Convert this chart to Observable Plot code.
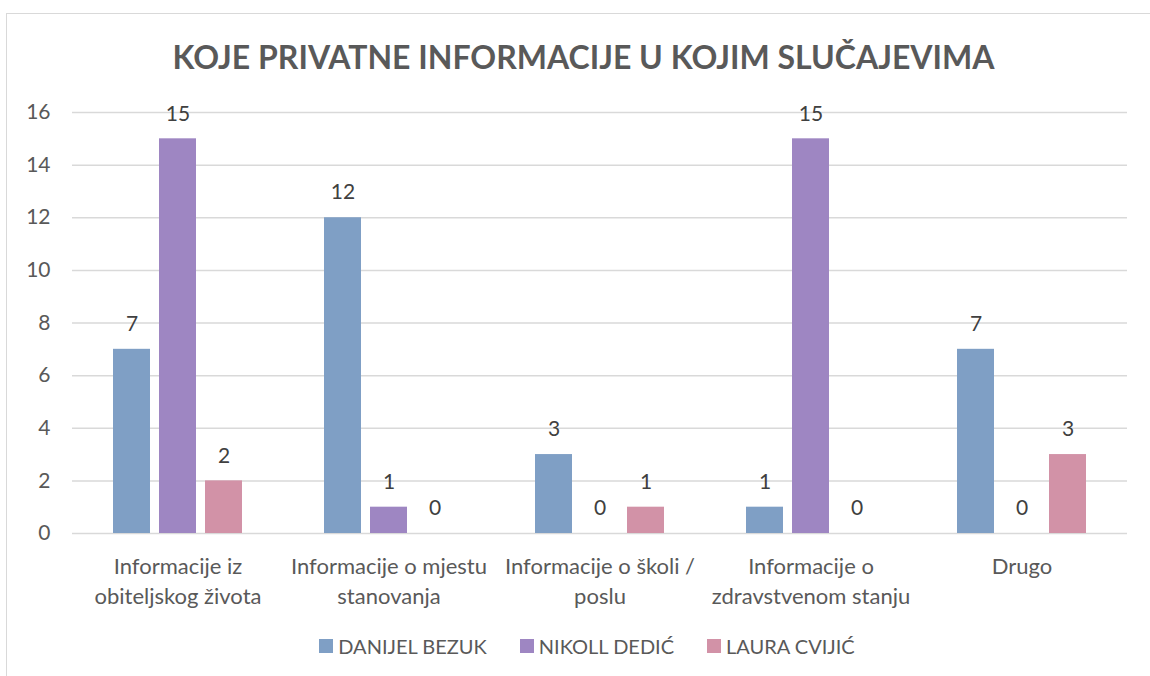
<!DOCTYPE html>
<html>
<head>
<meta charset="utf-8">
<script src="https://cdn.jsdelivr.net/npm/d3@7"></script>
<script src="https://cdn.jsdelivr.net/npm/@observablehq/plot@0.6"></script>
<style>
  html, body { margin: 0; padding: 0; background: #fff; }
  #chart { position: relative; width: 1150px; height: 676px; overflow: hidden; font-family: Lato, "Open Sans", sans-serif; }
  #frame { position: absolute; left: 6px; top: 13px; width: 1200px; height: 700px; border-left: 1.5px solid #d9d9d9; border-top: 1.5px solid #d9d9d9; box-sizing: border-box; }
  #title { position: absolute; top: 37px; left: 0; width: 1167px; text-align: center; font-weight: 700; font-size: 32px; color: #595959; white-space: nowrap; }
  #plot { position: absolute; left: 0; top: 80px; }
  #legend { position: absolute; top: 634px; left: 0; width: 1174px; display: flex; justify-content: center; gap: 33px; font-size: 20px; color: #595959; }
  .item { display: flex; align-items: center; gap: 5px; }
  .sw { width: 14px; height: 14px; display: inline-block; }
</style>
</head>
<body>
<div id="chart">
  <div id="frame"></div>
  <div id="title">KOJE PRIVATNE INFORMACIJE U KOJIM SLUČAJEVIMA</div>
  <div id="plot"></div>
  <div id="legend"></div>
</div>
<script>
const categories = [
  "Informacije iz\nobiteljskog života",
  "Informacije o mjestu\nstanovanja",
  "Informacije o školi /\nposlu",
  "Informacije o\nzdravstvenom stanju",
  "Drugo"
];
const seriesNames = ["DANIJEL BEZUK", "NIKOLL DEDIĆ", "LAURA CVIJIĆ"];
const danijel = [7, 12, 3, 1, 7];
const nikoll = [15, 1, 0, 15, 0];
const laura = [2, 0, 1, 0, 3];
const colors = ["#7f9fc5", "#9e86c2", "#d292a7"];
const yTicks = [0, 2, 4, 6, 8, 10, 12, 14, 16];

const seriesValues = [danijel, nikoll, laura];
const data = [];
categories.forEach((c, i) => {
  seriesNames.forEach((s, j) => data.push({cat: c, series: s, value: seriesValues[j][i]}));
});

const plot = Plot.plot({
  width: 1150,
  height: 540,
  marginLeft: 70,
  marginRight: 21,
  marginTop: 32,
  marginBottom: 87,
  style: {fontFamily: "Lato, 'Open Sans', sans-serif", background: "transparent"},
  fx: {domain: categories, padding: 0, label: null, axis: null},
  x: {domain: seriesNames, paddingInner: 0.2, paddingOuter: 0.855, axis: null},
  y: {domain: [0, 16], ticks: yTicks, label: null, axis: null},
  color: {domain: seriesNames, range: colors},
  marks: [
    Plot.ruleY(yTicks, {y: d => d, stroke: "#d9d9d9", strokeWidth: 1.5}),
    Plot.axisY({ticks: yTicks, tickSize: 0, tickPadding: 22, fontSize: 21, fill: "#595959", label: null}),
    Plot.axisFx({anchor: "bottom", tickSize: 0, tickPadding: 19, fontSize: 22, fill: "#595959", lineHeight: 1.36, label: null}),
    Plot.barY(data, {fx: "cat", x: "series", y: "value", fill: "series"}),
    Plot.text(data, {fx: "cat", x: "series", y: "value", text: d => String(d.value), dy: -25, fontSize: 21, fill: "#404040"})
  ]
});
document.getElementById("plot").appendChild(plot);

const legend = document.getElementById("legend");
seriesNames.forEach((s, i) => {
  const it = document.createElement("div");
  it.className = "item";
  it.innerHTML = `<span class="sw" style="background:${colors[i]}"></span><span>${s}</span>`;
  legend.appendChild(it);
});
</script>
</body>
</html>
